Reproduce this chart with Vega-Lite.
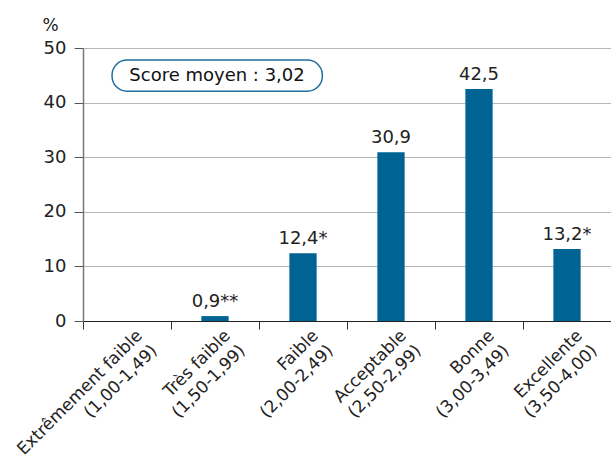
{
  "$schema": "https://vega.github.io/schema/vega-lite/v6.json",
  "autosize": "none",
  "width": 528,
  "height": 273,
  "padding": {"left": 83, "top": 48, "right": 0, "bottom": 141},
  "background": "white",
  "config": {
    "view": {"stroke": null},
    "font": "DejaVu Sans",
    "text": {"font": "DejaVu Sans"}
  },
  "datasets": {
    "bars": [
      {"cat": "Extrêmement faible|(1,00-1,49)", "value": null, "label": ""},
      {"cat": "Très faible|(1,50-1,99)", "value": 0.9, "label": "0,9**"},
      {"cat": "Faible|(2,00-2,49)", "value": 12.4, "label": "12,4*"},
      {"cat": "Acceptable|(2,50-2,99)", "value": 30.9, "label": "30,9"},
      {"cat": "Bonne|(3,00-3,49)", "value": 42.5, "label": "42,5"},
      {"cat": "Excellente|(3,50-4,00)", "value": 13.2, "label": "13,2*"}
    ],
    "box": [
      {"x0": 0.33, "x1": 2.72, "y0": 42.1, "y1": 47.8, "xm": 1.523, "ym": 44.95, "text": "Score moyen : 3,02"}
    ]
  },
  "layer": [
    {
      "data": {"name": "bars"},
      "encoding": {
        "x": {
          "field": "cat", "type": "nominal", "sort": null,
          "scale": {
            "domain": ["Extrêmement faible|(1,00-1,49)", "Très faible|(1,50-1,99)", "Faible|(2,00-2,49)", "Acceptable|(2,50-2,99)", "Bonne|(3,00-3,49)", "Excellente|(3,50-4,00)"],
            "paddingInner": 0, "paddingOuter": 0
          },
          "axis": {
            "title": null,
            "labelExpr": "split(datum.label, '|')",
            "labelAngle": -45,
            "labelAlign": "right",
            "labelBaseline": "top",
            "labelFontSize": 17,
            "labelColor": "#222222",
            "labelLineHeight": 21,
            "labelPadding": -2,
            "labelOffset": 7,
            "bandPosition": 0,
            "ticks": true,
            "tickSize": 8,
            "tickColor": "#333333",
            "domainColor": "#222222",
            "domainWidth": 1.2
          }
        },
        "y": {
          "field": "value", "type": "quantitative",
          "scale": {"domain": [0, 50]},
          "axis": {
            "values": [0, 10, 20, 30, 40, 50],
            "title": "%",
            "titleAngle": 0,
            "titleAlign": "left",
            "titleBaseline": "alphabetic",
            "titleX": -41,
            "titleY": -18,
            "titleFontSize": 17,
            "titleFontWeight": "normal",
            "titleColor": "#222222",
            "labelFontSize": 18,
            "labelColor": "#222222",
            "labelPadding": 8,
            "tickSize": 9,
            "tickColor": "#555555",
            "domainColor": "#777777",
            "domainWidth": 1.5,
            "grid": true,
            "gridColor": "#b8b8b8",
            "gridWidth": 1
          }
        }
      },
      "layer": [
        {"mark": {"type": "bar", "color": "#006394", "width": {"band": 0.31}}},
        {
          "mark": {"type": "text", "baseline": "bottom", "dy": -5, "fontSize": 18, "color": "#222222"},
          "encoding": {"text": {"field": "label"}}
        }
      ]
    },
    {
      "data": {"name": "box"},
      "layer": [
        {
          "mark": {"type": "rect", "fill": "white", "stroke": "#1f6e9e", "strokeWidth": 1.5, "cornerRadius": 15},
          "encoding": {
            "x": {"field": "x0", "type": "quantitative", "scale": {"domain": [0, 6]}, "axis": null},
            "x2": {"field": "x1"},
            "y": {"field": "y0", "type": "quantitative"},
            "y2": {"field": "y1"}
          }
        },
        {
          "mark": {"type": "text", "fontSize": 18, "color": "#111111", "baseline": "middle"},
          "encoding": {
            "x": {"field": "xm", "type": "quantitative", "scale": {"domain": [0, 6]}, "axis": null},
            "y": {"field": "ym", "type": "quantitative"},
            "text": {"field": "text"}
          }
        }
      ]
    }
  ],
  "resolve": {"scale": {"x": "independent"}}
}
